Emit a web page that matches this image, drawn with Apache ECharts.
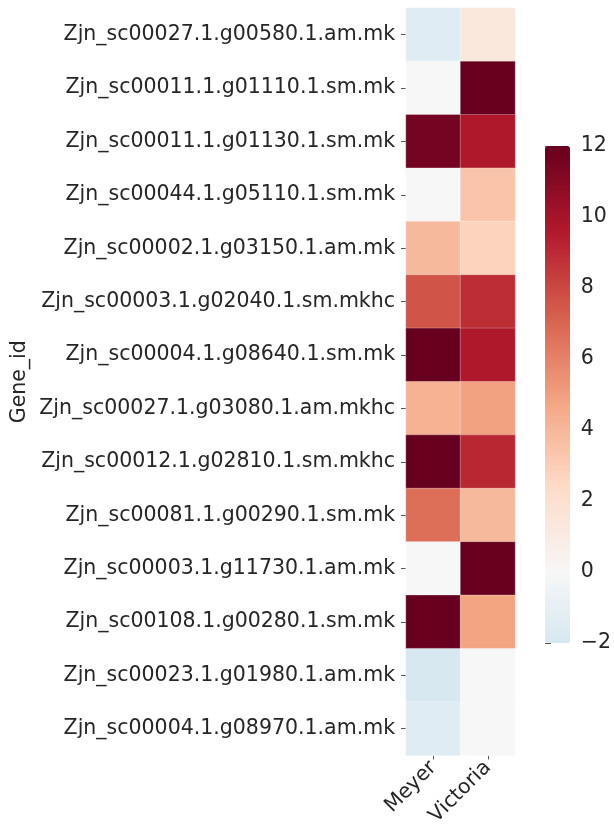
<!DOCTYPE html>
<html>
<head>
<meta charset="utf-8">
<script src="https://cdn.jsdelivr.net/npm/echarts@6/dist/echarts.min.js"></script>
<style>
html,body{margin:0;padding:0;background:#fff;}
#c{width:614px;height:829px;}
</style>
</head>
<body>
<div id="c"></div>
<script>
const genes = [
  "Zjn_sc00027.1.g00580.1.am.mk",
  "Zjn_sc00011.1.g01110.1.sm.mk",
  "Zjn_sc00011.1.g01130.1.sm.mk",
  "Zjn_sc00044.1.g05110.1.sm.mk",
  "Zjn_sc00002.1.g03150.1.am.mk",
  "Zjn_sc00003.1.g02040.1.sm.mkhc",
  "Zjn_sc00004.1.g08640.1.sm.mk",
  "Zjn_sc00027.1.g03080.1.am.mkhc",
  "Zjn_sc00012.1.g02810.1.sm.mkhc",
  "Zjn_sc00081.1.g00290.1.sm.mk",
  "Zjn_sc00003.1.g11730.1.am.mk",
  "Zjn_sc00108.1.g00280.1.sm.mk",
  "Zjn_sc00023.1.g01980.1.am.mk",
  "Zjn_sc00004.1.g08970.1.am.mk"
];
const samples = ["Meyer", "Victoria"];
const meyer    = [-1.5, 0, 11.6, 0, 3.9, 7.6, 12, 4.2, 12, 6.7, 0, 12, -2, -1.5];
const victoria = [1.3, 12, 9.7, 3.4, 2.7, 8.9, 9.7, 4.9, 9.1, 3.9, 12, 4.8, 0, 0];
const colorbarMin = -2, colorbarMax = 12, colorbarStep = 2;

// RdBu_r colormap anchors (matplotlib), centered at 0 with half-range 12
const rdbuR = ["#053061","#2166ac","#4393c3","#92c5de","#d1e5f0","#f7f7f7","#fddbc7","#f4a582","#d6604d","#b2182b","#67001f"];
function hex2rgb(h){return [parseInt(h.substr(1,2),16),parseInt(h.substr(3,2),16),parseInt(h.substr(5,2),16)];}
function cmap(frac){
  frac = Math.max(0, Math.min(1, frac));
  const p = frac * (rdbuR.length - 1);
  const i = Math.min(Math.floor(p), rdbuR.length - 2);
  const t = p - i;
  const a = hex2rgb(rdbuR[i]), b = hex2rgb(rdbuR[i+1]);
  const c = a.map((v,k)=>Math.round(v + (b[k]-v)*t));
  return "rgb(" + c.join(",") + ")";
}
const half = Math.max(Math.abs(colorbarMin), Math.abs(colorbarMax));
const colors = [];
for (let k = 0; k <= 56; k++) {
  const v = colorbarMin + (colorbarMax - colorbarMin) * k / 56;
  colors.push(cmap((v + half) / (2 * half)));
}

const data = [];
genes.forEach((g, i) => {
  data.push([0, i, meyer[i]]);
  data.push([1, i, victoria[i]]);
});

const txt = "#262626";
const font = "DejaVu Sans";
const chart = echarts.init(document.getElementById("c"), null, {renderer: "canvas"});
chart.setOption({
  animation: false,
  backgroundColor: "#fff",
  textStyle: {fontFamily: font},
  grid: [
    {left: 406, top: 8, width: 109, height: 757},
    {left: 545, top: 146, width: 25, height: 497}
  ],
  xAxis: [
    {
      type: "category", data: samples, gridIndex: 0, position: "bottom",
      axisLine: {show: false},
      axisTick: {show: true, length: 4, alignWithLabel: true, lineStyle: {color: "#555", width: 1}},
      axisLabel: {rotate: 45, fontSize: 20.5, color: txt, fontFamily: font, margin: 9},
      splitArea: {show: false}, splitLine: {show: false}
    },
    {type: "value", gridIndex: 1, show: false, min: 0, max: 1}
  ],
  yAxis: [
    {
      type: "category", data: genes, gridIndex: 0, inverse: true,
      name: "Gene_id", nameLocation: "middle", nameGap: 376, nameRotate: 90,
      nameTextStyle: {fontSize: 20.5, color: txt, fontFamily: font},
      axisLine: {show: false},
      axisTick: {show: true, length: 5, alignWithLabel: true, lineStyle: {color: "#555", width: 1}},
      axisLabel: {fontSize: 20.5, color: txt, fontFamily: font, margin: 11},
      splitArea: {show: false}, splitLine: {show: false}
    },
    {
      type: "value", gridIndex: 1, position: "right",
      min: colorbarMin, max: colorbarMax, interval: colorbarStep,
      axisLine: {show: false},
      axisTick: {show: true, length: 6, lineStyle: {color: "#555", width: 1}},
      axisLabel: {fontSize: 20.5, color: txt, fontFamily: font, margin: 12,
        formatter: v => String(v).replace("-", "\u2212")},
      splitLine: {show: false}
    }
  ],
  visualMap: {
    type: "continuous", min: colorbarMin, max: colorbarMax,
    seriesIndex: 0, calculable: false, hoverLink: false,
    left: 545, top: 146, itemWidth: 25, itemHeight: 497, padding: 0,
    orient: "vertical", inRange: {color: colors}, text: null,
    showLabel: false
  },
  series: [
    {
      type: "heatmap", xAxisIndex: 0, yAxisIndex: 0, data: data,
      itemStyle: {borderColor: "rgba(255,255,255,0.45)", borderWidth: 0.6},
      emphasis: {disabled: true}
    }
  ]
});
</script>
</body>
</html>
